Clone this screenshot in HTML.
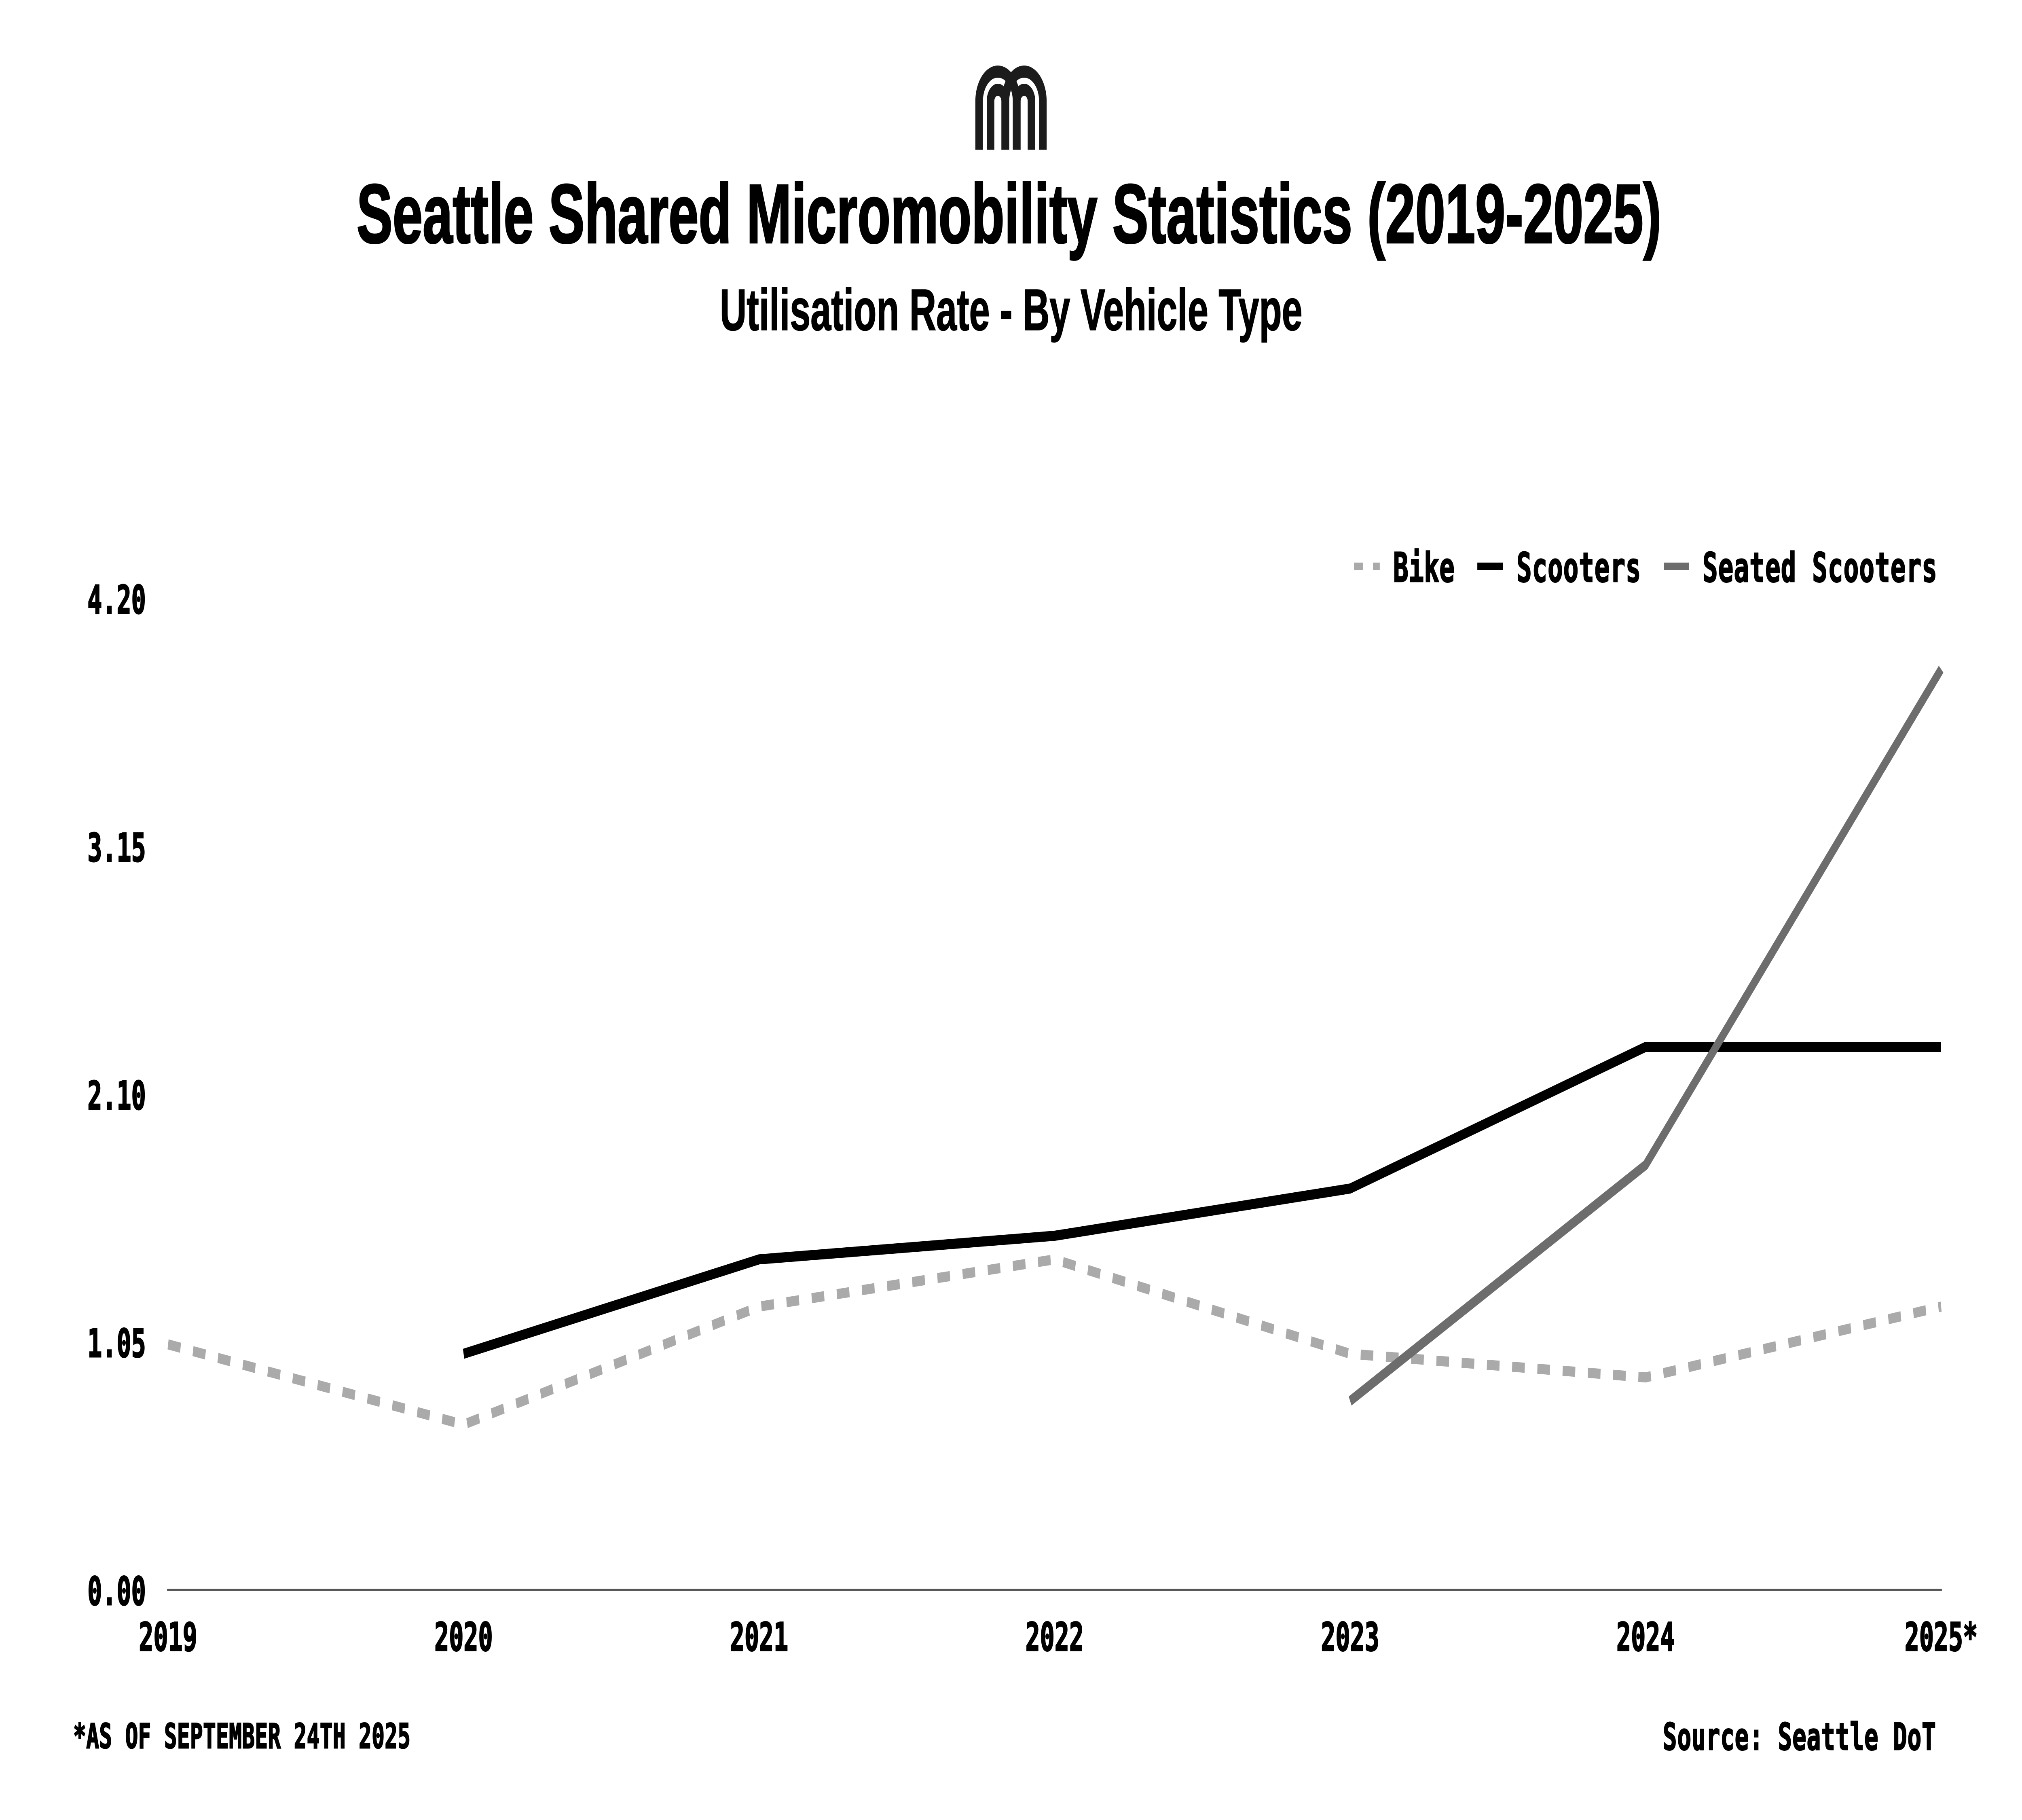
<!DOCTYPE html>
<html lang="en">
<head>
<meta charset="utf-8">
<title>Seattle Shared Micromobility Statistics (2019-2025)</title>
<style>
html,body{margin:0;padding:0;background:#fff;width:100%;height:100%;overflow:hidden}
svg{display:block;position:fixed;left:0;top:0;width:100vw;height:100vh}
.mono{font-family:"DejaVu Sans Mono","Liberation Mono",monospace;font-weight:700;fill:#000;stroke:#000;stroke-width:3px}
.sans{font-family:"Liberation Sans",sans-serif;font-weight:700;fill:#000;stroke:#000}
</style>
</head>
<body>
<svg id="chart" xmlns="http://www.w3.org/2000/svg" viewBox="0 0 8000 4500" preserveAspectRatio="none">
  <rect x="0" y="0" width="8000" height="4500" fill="#fff"/>
  <g fill="none" stroke="#1c1c1c" stroke-width="30">
    <path d="M3874 370V250A74 73 0 0 1 4022 250V370"/>
    <path d="M3978 370V250A74 73 0 0 1 4126 250V370"/>
    <path d="M3919 370V250A29 28 0 0 1 3977 250V370"/>
    <path d="M4023 370V250A29 28 0 0 1 4081 250V370"/>
  </g>
  <text class="sans" x="1411" y="600" font-size="207" stroke-width="4" textLength="5162" lengthAdjust="spacingAndGlyphs">Seattle Shared Micromobility Statistics (2019-2025)</text>
  <text class="sans" x="2848" y="816" font-size="145" stroke-width="2" textLength="2305" lengthAdjust="spacingAndGlyphs">Utilisation Rate - By Vehicle Type</text>

  <g id="y-axis"></g>
  <g id="x-axis"></g>
  <g id="series"></g>

  <g>
    <g>
      <line x1="5357" y1="1400" x2="5459" y2="1400" stroke="#aaaaaa" stroke-width="18" stroke-dasharray="36 39"/>
      <text class="mono" x="5512" y="1438" font-size="100" textLength="243">Bike</text>
    </g>
    <g>
      <line x1="5845" y1="1400" x2="5946" y2="1400" stroke="#000000" stroke-width="18"/>
      <text class="mono" x="6000" y="1438" font-size="100" textLength="492">Scooters</text>
    </g>
    <g>
      <line x1="6584" y1="1400" x2="6682" y2="1400" stroke="#6d6d6d" stroke-width="18"/>
      <text class="mono" x="6736" y="1438" font-size="100" textLength="928">Seated Scooters</text>
    </g>
  </g>

  <text class="mono" x="290" y="4322" font-size="84" textLength="1334">*AS OF SEPTEMBER 24TH 2025</text>
  <text class="mono" x="6579" y="4326" font-size="92" textLength="1080">Source: Seattle DoT</text>
</svg>
<script>
const years = ["2019", "2020", "2021", "2022", "2023", "2024", "2025*"];
const yTicks = ["0.00", "1.05", "2.10", "3.15", "4.20"];
const bikeValues = [1.04, 0.70, 1.20, 1.40, 1.00, 0.90, 1.20];
const scooterValues = [null, 1.00, 1.40, 1.50, 1.70, 2.30, 2.30];
const seatedValues = [null, null, null, null, 0.80, 1.80, 3.90];

const NS = "http://www.w3.org/2000/svg";
const plotLeft = 665;
const plotRight = 7680;
const plotBottom = 3931;
const plotTop = 1479.5;
const yMax = 4.2;

function xScale(i) {
  return plotLeft + (plotRight - plotLeft) * i / (years.length - 1);
}
function yScale(v) {
  return plotBottom - (plotBottom - plotTop) * v / yMax;
}
function pointsFor(values) {
  const out = [];
  values.forEach(function (v, i) {
    if (v !== null) out.push(xScale(i).toFixed(1) + "," + yScale(v).toFixed(1));
  });
  return out.join(" ");
}

const yAxis = document.getElementById("y-axis");
const xAxis = document.getElementById("x-axis");
const seriesGroup = document.getElementById("series");

yTicks.forEach(function (label) {
  const t = document.createElementNS(NS, "text");
  
  
  t.setAttribute("class", "mono");
  t.setAttribute("x", "346");
  t.setAttribute("y", (yScale(parseFloat(label)) + 37).toFixed(1));
  t.setAttribute("font-size", "96");
  t.textContent = label;
  yAxis.appendChild(t);
});

const axisLine = document.createElementNS(NS, "line");


axisLine.setAttribute("x1", "661");
axisLine.setAttribute("x2", "7683");
axisLine.setAttribute("y1", plotBottom);
axisLine.setAttribute("y2", plotBottom);
axisLine.setAttribute("stroke", "#555555");
axisLine.setAttribute("stroke-width", "5");
xAxis.appendChild(axisLine);

years.forEach(function (label, i) {
  const t = document.createElementNS(NS, "text");
  
  
  t.setAttribute("class", "mono");
  t.setAttribute("x", xScale(i).toFixed(1));
  t.setAttribute("y", "4081");
  t.setAttribute("font-size", "96");
  t.setAttribute("text-anchor", "middle");
  t.textContent = label;
  xAxis.appendChild(t);
});

const bikeLine = document.createElementNS(NS, "polyline");


bikeLine.setAttribute("points", pointsFor(bikeValues));
bikeLine.setAttribute("fill", "none");
bikeLine.setAttribute("stroke", "#aaaaaa");
bikeLine.setAttribute("stroke-width", "25");
bikeLine.setAttribute("stroke-dasharray", "50 50");
seriesGroup.appendChild(bikeLine);

const scooterLine = document.createElementNS(NS, "polyline");


scooterLine.setAttribute("points", pointsFor(scooterValues));
scooterLine.setAttribute("fill", "none");
scooterLine.setAttribute("stroke", "#000000");
scooterLine.setAttribute("stroke-width", "25");
seriesGroup.appendChild(scooterLine);

const seatedLine = document.createElementNS(NS, "polyline");


seatedLine.setAttribute("points", pointsFor(seatedValues));
seatedLine.setAttribute("fill", "none");
seatedLine.setAttribute("stroke", "#6d6d6d");
seatedLine.setAttribute("stroke-width", "25");
seriesGroup.appendChild(seatedLine);
</script>
</body>
</html>
